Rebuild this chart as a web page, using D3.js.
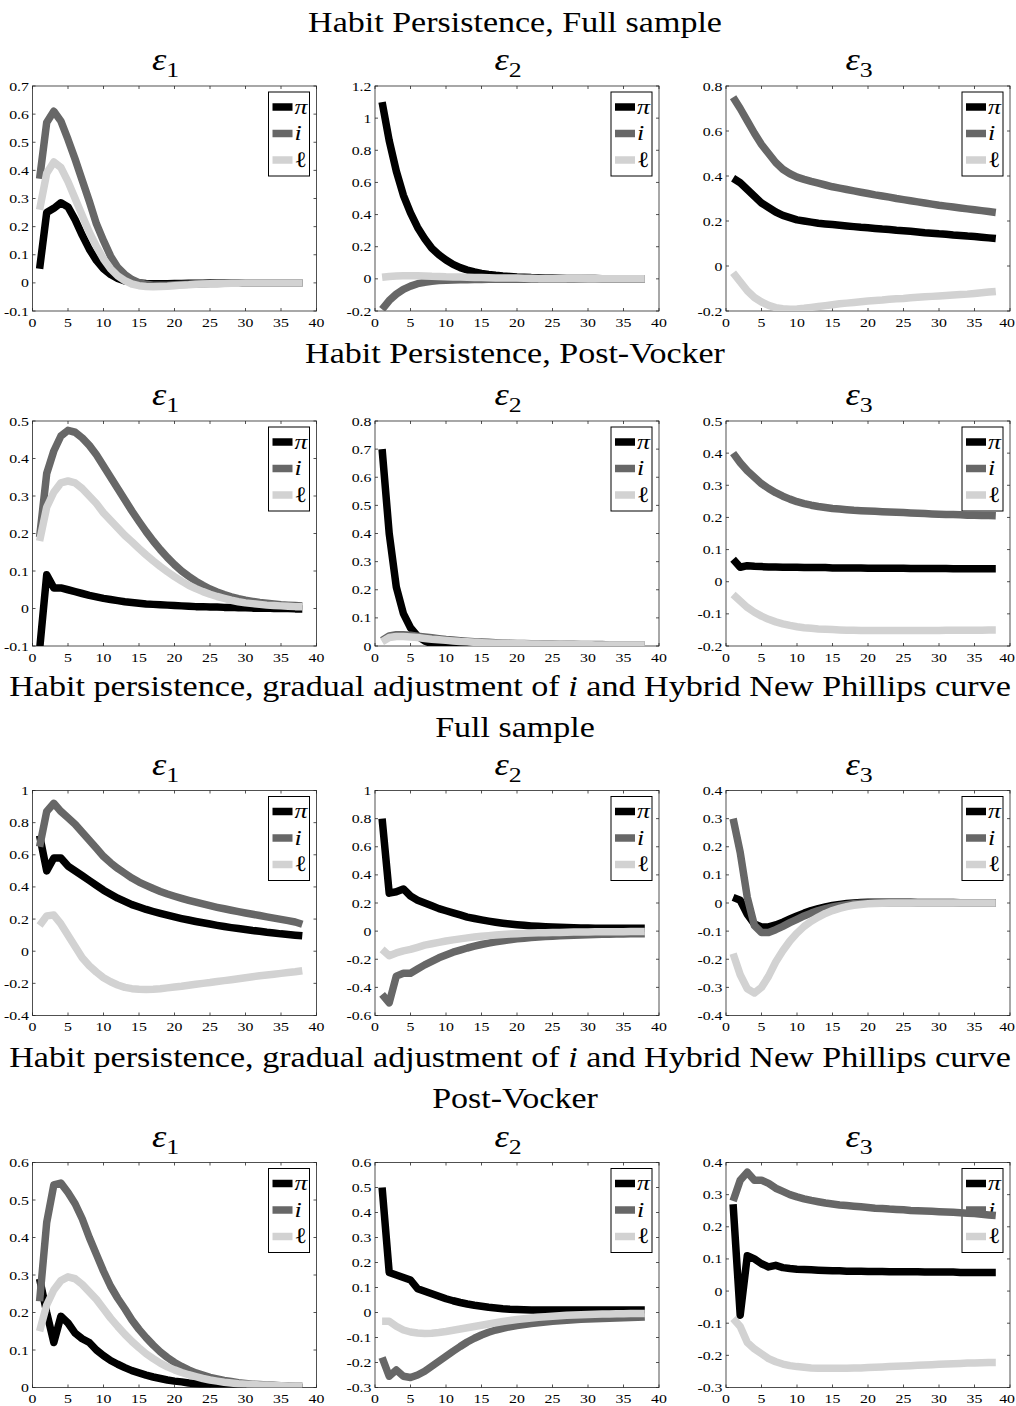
<!DOCTYPE html>
<html><head><meta charset="utf-8">
<script src="https://cdn.jsdelivr.net/npm/d3@7"></script>
<style>
body{margin:0;background:#fff}
svg{display:block}
text{font-family:"Liberation Serif","Times New Roman",serif;fill:#000}
</style>
</head><body>
<svg id="chart" width="1016" height="1406"></svg>
<script>
// ---------------- DATA ----------------
const periods = [1,2,3,4,5,6,7,8,9,10,11,12,13,14,15,16,17,18,19,20,21,22,23,24,25,26,27,28,29,30,31,32,33,34,35,36,37,38];
const seriesLabels = ["π","i","ℓ"];
const shockLabels = ["1","2","3"];
const xTicks = [0,5,10,15,20,25,30,35,40];

// Habit Persistence, Full sample
const hpFull_e1_pi = [0.05,0.25,0.265,0.285,0.27,0.225,0.17,0.12,0.08,0.05,0.03,0.016,0.007,0.002,0,-0.002,-0.003,-0.003,-0.003,-0.002,-0.002,-0.001,-0.001,-0.001,0,0,0,0,0,0,0,0,0,0,0,0,0,0];
const hpFull_e1_i  = [0.37,0.57,0.61,0.575,0.51,0.44,0.365,0.29,0.21,0.15,0.095,0.055,0.03,0.012,0.001,-0.005,-0.008,-0.008,-0.008,-0.007,-0.006,-0.005,-0.004,-0.003,-0.002,-0.002,-0.001,-0.001,0,0,0,0,0,0,0,0,0,0];
const hpFull_e1_l  = [0.26,0.39,0.43,0.41,0.36,0.30,0.24,0.18,0.13,0.085,0.05,0.025,0.008,-0.004,-0.01,-0.013,-0.014,-0.013,-0.012,-0.01,-0.008,-0.007,-0.005,-0.004,-0.003,-0.002,-0.002,-0.001,-0.001,0,0,0,0,0,0,0,0,0];

const hpFull_e2_pi = [1.10,0.86,0.67,0.52,0.41,0.32,0.25,0.19,0.15,0.117,0.09,0.07,0.055,0.043,0.034,0.027,0.022,0.018,0.015,0.012,0.01,0.008,0.007,0.006,0.005,0.004,0.003,0.003,0.002,0.002,0.002,0.001,0.001,0.001,0.001,0.001,0.001,0.001];
const hpFull_e2_i  = [-0.19,-0.135,-0.095,-0.065,-0.045,-0.03,-0.021,-0.015,-0.011,-0.009,-0.007,-0.006,-0.005,-0.004,-0.004,-0.003,-0.003,-0.002,-0.002,-0.002,-0.002,-0.001,-0.001,-0.001,-0.001,-0.001,-0.001,-0.001,0,0,0,0,0,0,0,0,0,0];
const hpFull_e2_l  = [0.01,0.015,0.018,0.02,0.02,0.019,0.018,0.016,0.015,0.013,0.012,0.011,0.01,0.009,0.008,0.007,0.006,0.006,0.005,0.005,0.004,0.004,0.003,0.003,0.003,0.002,0.002,0.002,0.002,0.001,0.001,0.001,0.001,0.001,0.001,0.001,0.001,0.001];

const hpFull_e3_pi = [0.39,0.37,0.34,0.31,0.28,0.26,0.24,0.225,0.215,0.205,0.2,0.195,0.19,0.187,0.184,0.181,0.178,0.175,0.172,0.17,0.167,0.164,0.162,0.159,0.157,0.154,0.151,0.148,0.146,0.143,0.141,0.138,0.136,0.133,0.131,0.128,0.125,0.122];
const hpFull_e3_i  = [0.75,0.70,0.645,0.59,0.54,0.50,0.46,0.43,0.41,0.395,0.385,0.376,0.368,0.36,0.352,0.346,0.34,0.334,0.328,0.322,0.316,0.311,0.306,0.3,0.295,0.29,0.285,0.28,0.275,0.27,0.266,0.262,0.258,0.254,0.25,0.246,0.242,0.238];
const hpFull_e3_l  = [-0.03,-0.07,-0.11,-0.14,-0.16,-0.175,-0.185,-0.19,-0.192,-0.191,-0.188,-0.184,-0.18,-0.176,-0.172,-0.168,-0.165,-0.162,-0.159,-0.156,-0.153,-0.151,-0.148,-0.146,-0.144,-0.141,-0.139,-0.137,-0.135,-0.133,-0.131,-0.129,-0.127,-0.125,-0.122,-0.119,-0.116,-0.113];

// Habit Persistence, Post-Vocker
const hpPV_e1_pi = [-0.11,0.09,0.055,0.055,0.05,0.045,0.04,0.035,0.031,0.027,0.024,0.021,0.018,0.016,0.014,0.012,0.011,0.01,0.009,0.008,0.007,0.006,0.005,0.005,0.004,0.004,0.003,0.003,0.002,0.002,0.001,0.001,0.001,0,0,0,-0.001,-0.001];
const hpPV_e1_i  = [0.19,0.36,0.42,0.46,0.475,0.47,0.455,0.435,0.41,0.38,0.35,0.32,0.29,0.26,0.232,0.205,0.18,0.157,0.136,0.117,0.1,0.086,0.073,0.062,0.052,0.044,0.037,0.031,0.026,0.022,0.019,0.016,0.014,0.012,0.01,0.009,0.008,0.007];
const hpPV_e1_l  = [0.18,0.27,0.31,0.335,0.34,0.335,0.32,0.30,0.28,0.255,0.235,0.215,0.195,0.178,0.16,0.143,0.127,0.112,0.098,0.085,0.073,0.062,0.053,0.045,0.038,0.032,0.027,0.022,0.018,0.015,0.013,0.011,0.009,0.008,0.007,0.006,0.005,0.005];

const hpPV_e2_pi = [0.70,0.40,0.21,0.115,0.065,0.035,0.018,0.008,0.002,-0.002,-0.004,-0.005,-0.005,-0.005,-0.005,-0.004,-0.004,-0.004,-0.003,-0.003,-0.003,-0.003,-0.002,-0.002,-0.002,-0.002,-0.002,-0.001,-0.001,-0.001,-0.001,-0.001,-0.001,-0.001,0,0,0,0];
const hpPV_e2_i  = [0.02,0.036,0.04,0.04,0.038,0.035,0.032,0.029,0.026,0.023,0.021,0.019,0.017,0.015,0.014,0.013,0.012,0.011,0.01,0.009,0.009,0.008,0.008,0.007,0.007,0.006,0.006,0.006,0.005,0.005,0.005,0.005,0.004,0.004,0.004,0.004,0.004,0.004];
const hpPV_e2_l  = [0.015,0.03,0.034,0.034,0.032,0.03,0.027,0.024,0.022,0.02,0.018,0.016,0.015,0.013,0.012,0.011,0.01,0.01,0.009,0.008,0.008,0.007,0.007,0.006,0.006,0.006,0.005,0.005,0.005,0.005,0.004,0.004,0.004,0.004,0.004,0.004,0.004,0.004];

const hpPV_e3_pi = [0.07,0.045,0.05,0.048,0.047,0.046,0.046,0.045,0.045,0.045,0.044,0.044,0.044,0.044,0.043,0.043,0.043,0.043,0.043,0.042,0.042,0.042,0.042,0.042,0.042,0.041,0.041,0.041,0.041,0.041,0.041,0.04,0.04,0.04,0.04,0.04,0.04,0.04];
const hpPV_e3_i  = [0.40,0.37,0.345,0.325,0.305,0.29,0.277,0.266,0.257,0.249,0.243,0.238,0.234,0.231,0.228,0.226,0.224,0.222,0.221,0.22,0.219,0.218,0.217,0.216,0.215,0.214,0.213,0.212,0.211,0.21,0.209,0.209,0.208,0.207,0.207,0.206,0.206,0.205];
const hpPV_e3_l  = [-0.04,-0.06,-0.08,-0.095,-0.107,-0.117,-0.125,-0.131,-0.136,-0.14,-0.143,-0.145,-0.147,-0.148,-0.149,-0.15,-0.151,-0.151,-0.152,-0.152,-0.152,-0.152,-0.152,-0.152,-0.152,-0.152,-0.152,-0.152,-0.152,-0.152,-0.151,-0.151,-0.151,-0.151,-0.151,-0.151,-0.15,-0.15];

// Habit persistence, gradual adjustment of i and Hybrid NPC, Full sample
const gaFull_e1_pi = [0.72,0.50,0.58,0.58,0.53,0.50,0.47,0.44,0.41,0.38,0.355,0.33,0.31,0.29,0.275,0.26,0.247,0.235,0.224,0.213,0.203,0.194,0.185,0.177,0.169,0.161,0.154,0.147,0.141,0.135,0.129,0.124,0.118,0.113,0.108,0.104,0.1,0.096];
const gaFull_e1_i  = [0.65,0.87,0.92,0.87,0.83,0.79,0.74,0.69,0.64,0.59,0.55,0.515,0.485,0.455,0.43,0.41,0.39,0.372,0.356,0.342,0.329,0.317,0.305,0.294,0.283,0.273,0.264,0.255,0.246,0.238,0.23,0.222,0.214,0.206,0.198,0.19,0.182,0.168];
const gaFull_e1_l  = [0.16,0.22,0.225,0.17,0.10,0.03,-0.04,-0.09,-0.13,-0.165,-0.19,-0.21,-0.225,-0.233,-0.237,-0.238,-0.236,-0.233,-0.228,-0.223,-0.218,-0.212,-0.206,-0.2,-0.195,-0.189,-0.183,-0.177,-0.171,-0.165,-0.159,-0.153,-0.148,-0.143,-0.138,-0.133,-0.128,-0.122];

const gaFull_e2_pi = [0.80,0.27,0.28,0.30,0.25,0.22,0.20,0.18,0.16,0.145,0.13,0.115,0.10,0.09,0.08,0.071,0.063,0.056,0.05,0.045,0.041,0.037,0.034,0.031,0.029,0.027,0.025,0.024,0.023,0.022,0.021,0.021,0.02,0.02,0.02,0.02,0.02,0.02];
const gaFull_e2_i  = [-0.45,-0.51,-0.32,-0.30,-0.30,-0.27,-0.24,-0.215,-0.19,-0.17,-0.15,-0.135,-0.12,-0.107,-0.095,-0.085,-0.076,-0.068,-0.061,-0.055,-0.05,-0.046,-0.042,-0.039,-0.036,-0.033,-0.031,-0.029,-0.027,-0.025,-0.024,-0.023,-0.022,-0.021,-0.02,-0.019,-0.019,-0.018];
const gaFull_e2_l  = [-0.13,-0.175,-0.155,-0.14,-0.13,-0.115,-0.10,-0.09,-0.08,-0.07,-0.062,-0.055,-0.048,-0.042,-0.037,-0.032,-0.028,-0.024,-0.021,-0.018,-0.016,-0.014,-0.012,-0.011,-0.01,-0.009,-0.008,-0.007,-0.006,-0.006,-0.005,-0.005,-0.004,-0.004,-0.004,-0.003,-0.003,-0.003];

const gaFull_e3_pi = [0.02,0.01,-0.04,-0.075,-0.085,-0.085,-0.078,-0.068,-0.057,-0.046,-0.036,-0.027,-0.02,-0.014,-0.009,-0.005,-0.002,0,0.002,0.003,0.003,0.003,0.003,0.003,0.003,0.003,0.002,0.002,0.002,0.002,0.002,0.002,0.001,0.001,0.001,0.001,0.001,0.001];
const gaFull_e3_i  = [0.30,0.18,0.02,-0.08,-0.105,-0.105,-0.095,-0.083,-0.07,-0.058,-0.046,-0.036,-0.027,-0.02,-0.014,-0.01,-0.006,-0.003,-0.001,0,0.001,0.001,0.001,0.001,0.001,0.001,0.001,0.001,0.001,0.001,0.001,0.001,0.001,0.001,0.001,0.001,0.001,0.001];
const gaFull_e3_l  = [-0.18,-0.255,-0.305,-0.32,-0.30,-0.26,-0.21,-0.17,-0.135,-0.107,-0.083,-0.065,-0.05,-0.037,-0.027,-0.019,-0.013,-0.008,-0.005,-0.003,-0.002,-0.001,0,0,0,0,0,0,0,0,0,0,0,0,0,0,0,0];

// Habit persistence, gradual adjustment of i and Hybrid NPC, Post-Vocker
const gaPV_e1_pi = [0.29,0.20,0.12,0.19,0.172,0.145,0.13,0.12,0.10,0.085,0.072,0.062,0.053,0.045,0.039,0.033,0.028,0.024,0.02,0.017,0.015,0.012,0.01,0.008,0.006,0.005,0.004,0.003,0.002,0.001,0.001,0,0,0,0,0,0,0];
const gaPV_e1_i  = [0.23,0.44,0.54,0.545,0.52,0.49,0.45,0.40,0.355,0.31,0.27,0.238,0.21,0.18,0.155,0.133,0.113,0.095,0.08,0.067,0.056,0.047,0.039,0.033,0.027,0.023,0.019,0.016,0.013,0.011,0.009,0.008,0.007,0.006,0.005,0.005,0.004,0.004];
const gaPV_e1_l  = [0.15,0.22,0.26,0.285,0.295,0.29,0.275,0.255,0.235,0.21,0.185,0.163,0.142,0.123,0.106,0.09,0.077,0.065,0.055,0.047,0.04,0.034,0.029,0.024,0.02,0.017,0.014,0.012,0.01,0.009,0.008,0.007,0.006,0.005,0.005,0.004,0.004,0.004];

const gaPV_e2_pi = [0.50,0.16,0.15,0.14,0.13,0.095,0.085,0.075,0.065,0.055,0.047,0.04,0.034,0.029,0.025,0.021,0.018,0.015,0.013,0.012,0.011,0.01,0.01,0.01,0.01,0.01,0.01,0.01,0.01,0.01,0.01,0.01,0.01,0.01,0.01,0.01,0.01,0.01];
const gaPV_e2_i  = [-0.18,-0.255,-0.23,-0.255,-0.26,-0.25,-0.235,-0.215,-0.195,-0.175,-0.155,-0.136,-0.118,-0.103,-0.09,-0.079,-0.07,-0.063,-0.057,-0.052,-0.048,-0.044,-0.041,-0.038,-0.035,-0.033,-0.031,-0.029,-0.027,-0.026,-0.025,-0.024,-0.023,-0.022,-0.021,-0.02,-0.019,-0.018];
const gaPV_e2_l  = [-0.035,-0.035,-0.055,-0.07,-0.078,-0.082,-0.084,-0.083,-0.08,-0.076,-0.071,-0.066,-0.061,-0.056,-0.051,-0.046,-0.041,-0.036,-0.032,-0.028,-0.025,-0.022,-0.019,-0.017,-0.015,-0.013,-0.011,-0.01,-0.009,-0.008,-0.007,-0.006,-0.006,-0.005,-0.005,-0.004,-0.004,-0.004];

const gaPV_e3_pi = [0.27,-0.075,0.11,0.10,0.085,0.075,0.08,0.073,0.07,0.068,0.067,0.066,0.065,0.064,0.063,0.063,0.062,0.062,0.062,0.061,0.061,0.061,0.06,0.06,0.06,0.06,0.06,0.059,0.059,0.059,0.059,0.059,0.058,0.058,0.058,0.058,0.058,0.058];
const gaPV_e3_i  = [0.28,0.345,0.37,0.345,0.345,0.335,0.32,0.31,0.30,0.293,0.287,0.282,0.278,0.274,0.271,0.268,0.266,0.264,0.262,0.26,0.258,0.257,0.255,0.254,0.253,0.251,0.25,0.249,0.248,0.247,0.246,0.245,0.244,0.242,0.241,0.239,0.237,0.235];
const gaPV_e3_l  = [-0.085,-0.11,-0.16,-0.18,-0.195,-0.21,-0.22,-0.227,-0.232,-0.235,-0.237,-0.239,-0.24,-0.24,-0.24,-0.24,-0.24,-0.239,-0.239,-0.238,-0.237,-0.236,-0.235,-0.234,-0.233,-0.232,-0.231,-0.23,-0.229,-0.228,-0.227,-0.226,-0.225,-0.224,-0.224,-0.223,-0.222,-0.222];

// row titles (second line optional)
const rowTitleLines = [
  [["Habit Persistence, Full sample"]],
  [["Habit Persistence, Post-Vocker"]],
  [["Habit persistence, gradual adjustment of ", "i", " and Hybrid New Phillips curve"], ["Full sample"]],
  [["Habit persistence, gradual adjustment of ", "i", " and Hybrid New Phillips curve"], ["Post-Vocker"]]
];
// y-axis domains and tick steps per panel (row-major)
const yDomains = [[-0.1,0.7],[-0.2,1.2],[-0.2,0.8],[-0.1,0.5],[0,0.8],[-0.2,0.5],[-0.4,1],[-0.6,1],[-0.4,0.4],[0,0.6],[-0.3,0.6],[-0.3,0.4]];
const yTickSteps = [0.1,0.2,0.2,0.1,0.1,0.1,0.2,0.2,0.1,0.1,0.1,0.1];
const panelSeries = [
  [hpFull_e1_pi,hpFull_e1_i,hpFull_e1_l],[hpFull_e2_pi,hpFull_e2_i,hpFull_e2_l],[hpFull_e3_pi,hpFull_e3_i,hpFull_e3_l],
  [hpPV_e1_pi,hpPV_e1_i,hpPV_e1_l],[hpPV_e2_pi,hpPV_e2_i,hpPV_e2_l],[hpPV_e3_pi,hpPV_e3_i,hpPV_e3_l],
  [gaFull_e1_pi,gaFull_e1_i,gaFull_e1_l],[gaFull_e2_pi,gaFull_e2_i,gaFull_e2_l],[gaFull_e3_pi,gaFull_e3_i,gaFull_e3_l],
  [gaPV_e1_pi,gaPV_e1_i,gaPV_e1_l],[gaPV_e2_pi,gaPV_e2_i,gaPV_e2_l],[gaPV_e3_pi,gaPV_e3_i,gaPV_e3_l]
];

// ---------------- LAYOUT / STYLE ----------------
const W = 1016;
const seriesColors = ["#000000","#676767","#d2d2d2"];
const axisColor = "#262626";
const colLeft = [32.5, 375, 726];
const plotW = 284;
const rowTop = [86, 421, 790.5, 1162.5];
const plotH = 225;
const titleBaselines = [[31.5],[362.5],[695.5,736.5],[1066.5,1107.5]];
const titleCenter = 515;

const svg = d3.select("#chart");
const defs = svg.append("defs");

// horizontal stretch factor measured from the first title
let SX = 1.17;
{
  const t = svg.append("text").attr("font-size",29).text("Habit Persistence, Full sample");
  const w = t.node().getComputedTextLength();
  if (w > 0) SX = 414 / w;
  t.remove();
}
function stretchedText(g, x, y, anchor, sx){
  return g.append("text").attr("transform",`translate(${x},${y}) scale(${sx||SX},1)`).attr("text-anchor",anchor);
}

// row titles
rowTitleLines.forEach((lines, r) => {
  lines.forEach((parts, li) => {
    const t = stretchedText(svg, titleCenter, titleBaselines[r][li], "middle").attr("font-size", 29);
    parts.forEach(p => {
      const ts = t.append("tspan").text(p);
      if (p === "i" && parts.length > 1) ts.attr("font-style","italic");
    });
    if (parts.length > 1) {
      // long line: spans almost the full page width (x = 8 .. 1012)
      const w = t.node().getComputedTextLength();
      if (w > 0) t.attr("transform",`translate(510,${titleBaselines[r][li]}) scale(${1002/w},1)`);
    }
  });
});

const fmt = v => String(Math.round(v*10)/10);

panelSeries.forEach((series, p) => {
  const r = Math.floor(p/3), c = p % 3;
  const x0 = colLeft[c], y0 = rowTop[r];
  const x = d3.scaleLinear().domain([0,40]).range([x0, x0+plotW]);
  const dom = yDomains[p];
  const y = d3.scaleLinear().domain(dom).range([y0+plotH, y0]);
  const step = yTickSteps[p];
  const nT = Math.round((dom[1]-dom[0])/step);
  const yTicks = d3.range(nT+1).map(k => Math.round((dom[0]+k*step)*10)/10);
  const g = svg.append("g");

  // axis frame
  g.append("rect").attr("x",x0).attr("y",y0).attr("width",plotW).attr("height",plotH)
    .attr("fill","#fff").attr("stroke",axisColor).attr("stroke-width",0.8);

  const tl = 3;
  xTicks.forEach(v => {
    const xx = x(v);
    g.append("line").attr("x1",xx).attr("x2",xx).attr("y1",y0+plotH).attr("y2",y0+plotH-tl).attr("stroke",axisColor).attr("stroke-width",0.8);
    g.append("line").attr("x1",xx).attr("x2",xx).attr("y1",y0).attr("y2",y0+tl).attr("stroke",axisColor).attr("stroke-width",0.8);
    const t = stretchedText(g, xx, y0+plotH+15.5, "middle").attr("font-size",13.5).attr("fill",axisColor).text(fmt(v));
    const half = t.node().getComputedTextLength()*SX/2;
    if (xx + half > W - 1) t.attr("text-anchor","end").attr("transform",`translate(${W-1},${y0+plotH+15.5}) scale(${SX},1)`);
  });
  yTicks.forEach(v => {
    const yy = y(v);
    g.append("line").attr("x1",x0).attr("x2",x0+tl).attr("y1",yy).attr("y2",yy).attr("stroke",axisColor).attr("stroke-width",0.8);
    g.append("line").attr("x1",x0+plotW).attr("x2",x0+plotW-tl).attr("y1",yy).attr("y2",yy).attr("stroke",axisColor).attr("stroke-width",0.8);
    stretchedText(g, x0-3.5, yy+4.5, "end").attr("font-size",13.5).attr("fill",axisColor).text(fmt(v));
  });

  // subplot title epsilon_k
  const tt = stretchedText(g, x0+plotW/2-9, y0-16, "middle");
  tt.append("tspan").attr("font-size",31).attr("font-style","italic").text("ε");
  tt.append("tspan").attr("font-size",22).attr("dy",7).text(shockLabels[c]);

  // legend (drawn beneath the data lines, as in the original)
  const bw = 41, bh = 84;
  const bx = x0+plotW-7-bw, by = y0+6;
  g.append("rect").attr("x",bx).attr("y",by).attr("width",bw).attr("height",bh)
    .attr("fill","#fff").attr("stroke","#000").attr("stroke-width",1);
  const rowOff = [15, 41.5, 68];
  seriesLabels.forEach((lab, k) => {
    const ly = by + rowOff[k];
    g.append("line").attr("x1",bx+4).attr("x2",bx+24).attr("y1",ly).attr("y2",ly)
      .attr("stroke",seriesColors[k]).attr("stroke-width",7.5);
    const t = stretchedText(g, bx+26, ly+6.5, "start").attr("font-size",22).text(lab);
    if (lab !== "ℓ") t.attr("font-style","italic");
  });

  // clip
  const cid = "clip"+p;
  defs.append("clipPath").attr("id",cid).append("rect").attr("x",x0).attr("y",y0).attr("width",plotW).attr("height",plotH);

  const line = d3.line().x((d,i) => x(periods[i])).y(d => y(d));
  const lg = g.append("g").attr("clip-path",`url(#${cid})`);
  series.forEach((s, k) => {
    lg.append("path").datum(s).attr("d", line).attr("fill","none")
      .attr("stroke", seriesColors[k]).attr("stroke-width",7.5)
      .attr("stroke-linejoin","round").attr("stroke-linecap","butt");
  });
});
</script>
</body></html>
